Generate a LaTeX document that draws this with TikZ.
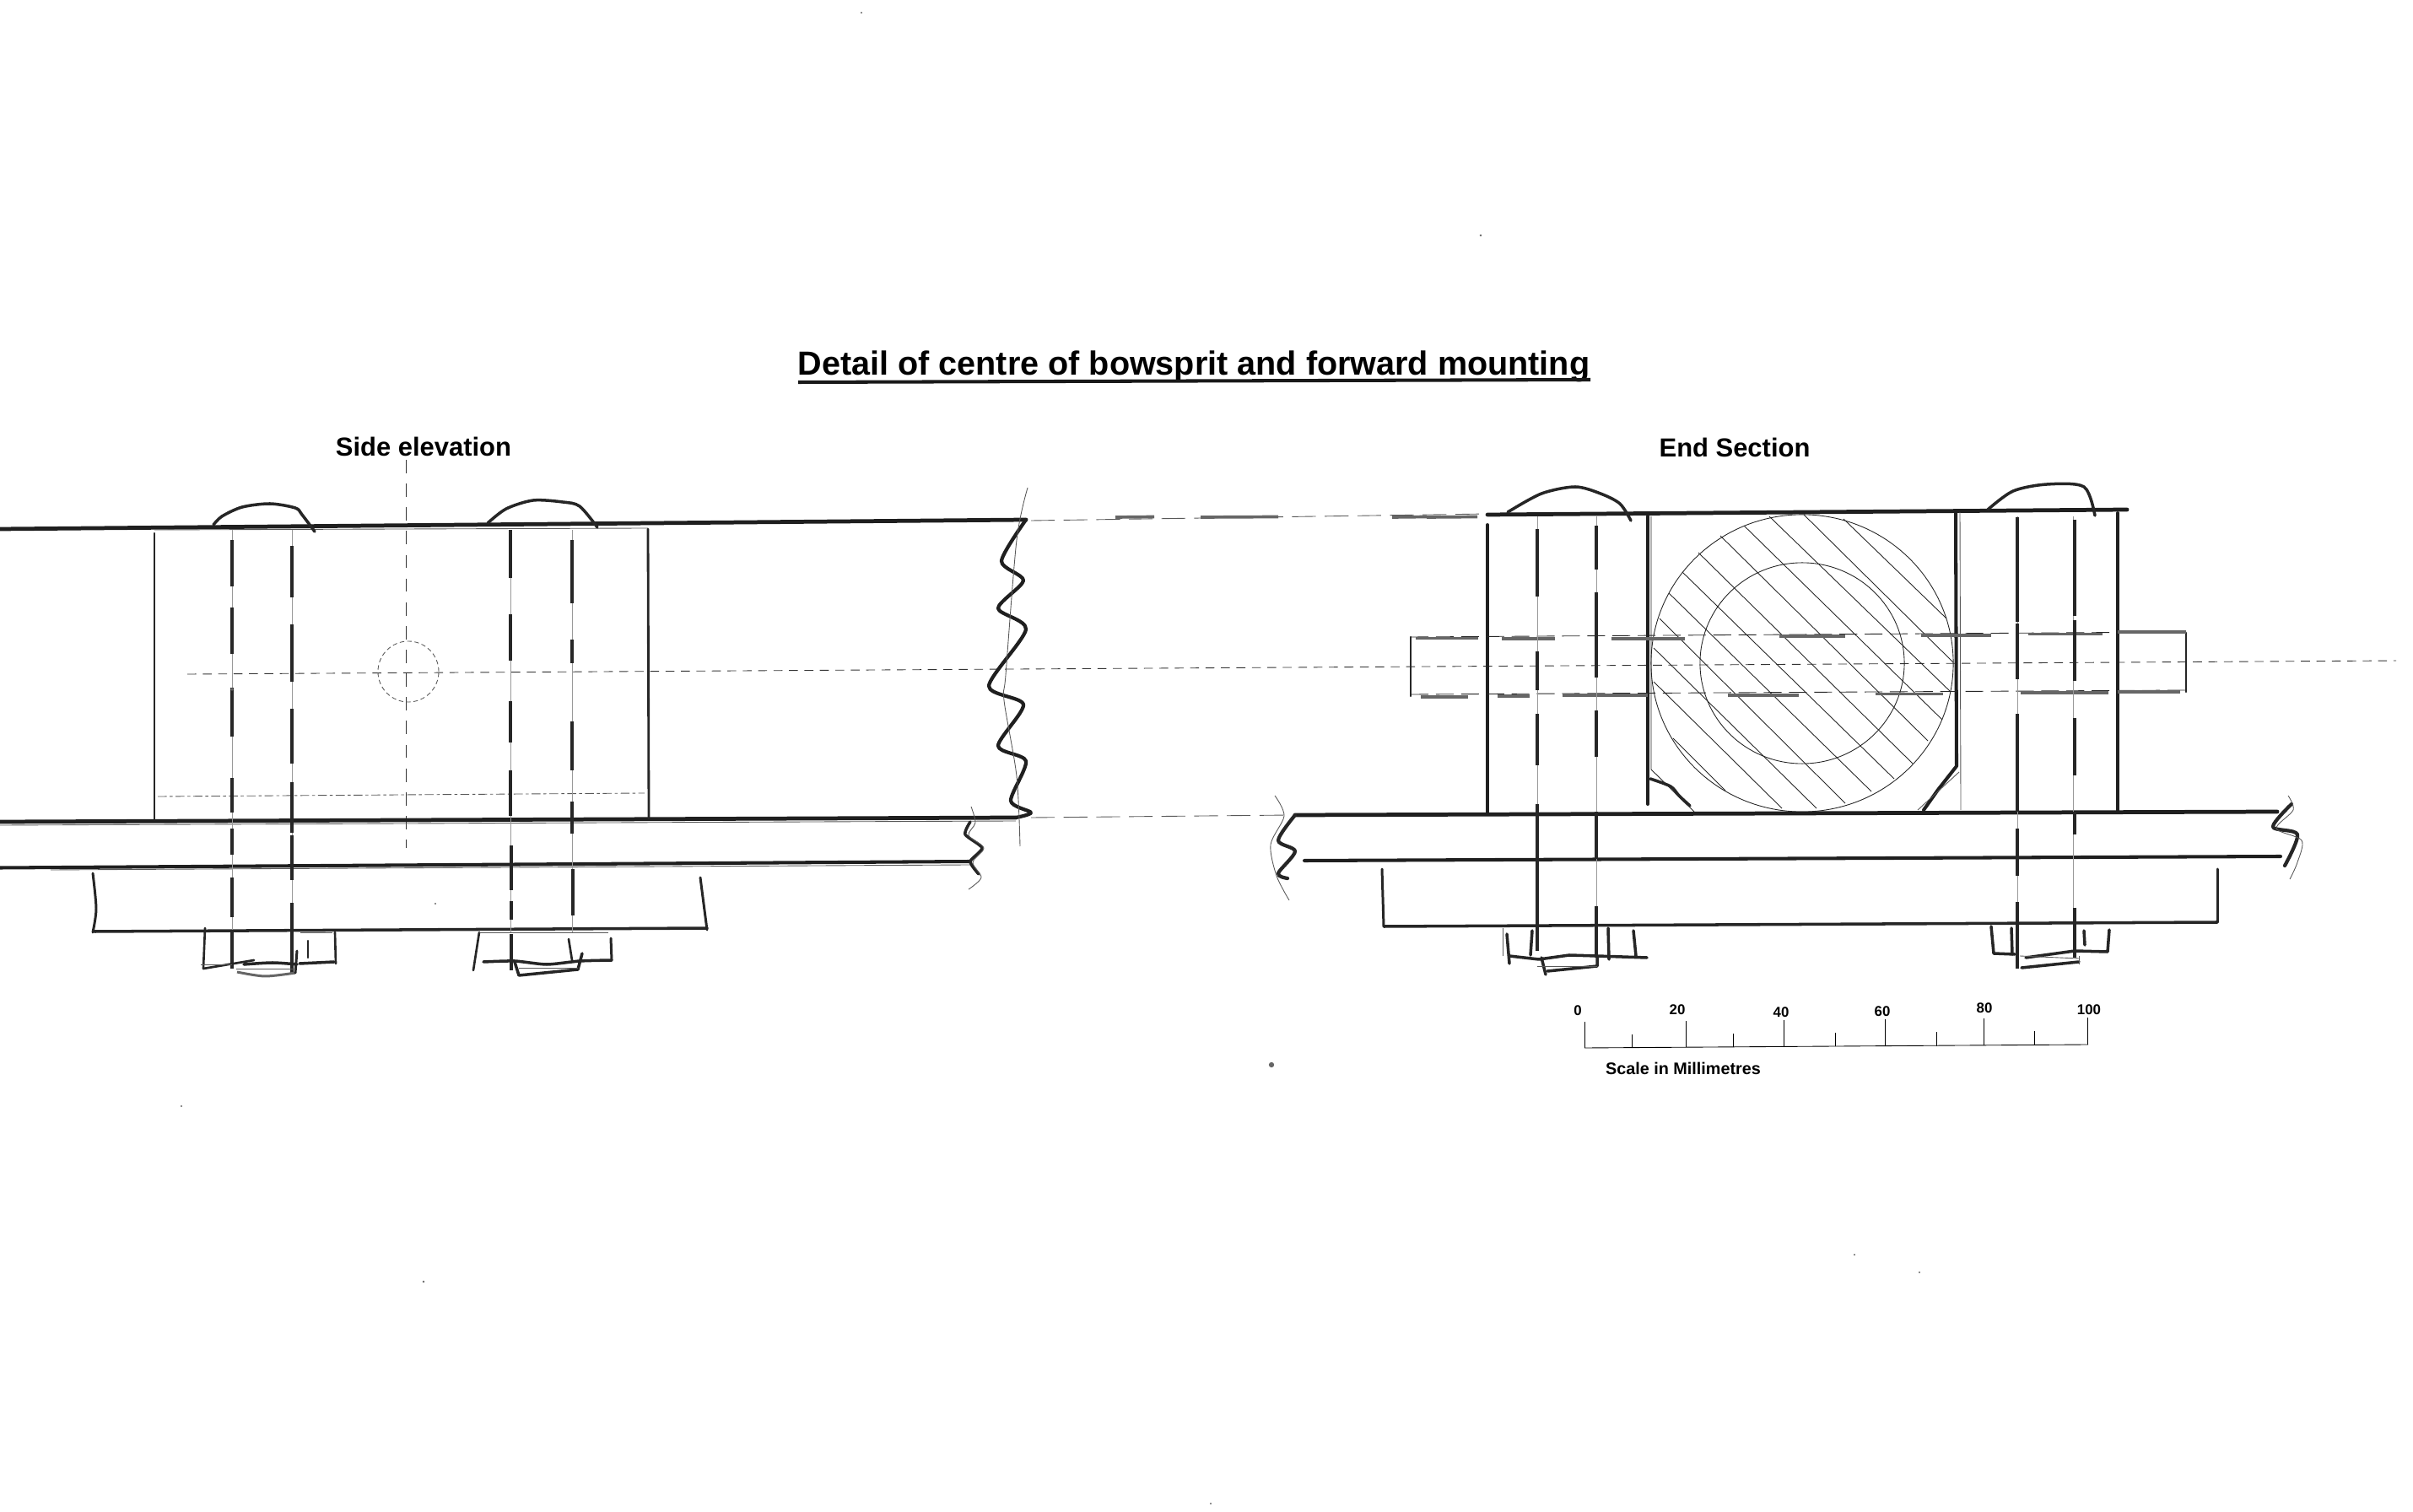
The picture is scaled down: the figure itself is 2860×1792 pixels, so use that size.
\documentclass[tikz,border=0pt]{standalone}
\usepackage{fontspec}
\setmainfont{Liberation Sans}
\tikzset{
    outline/.style={line width=1.35pt, line cap=round, line join=round, black!88},
    sketch/.style={line width=1pt, line cap=round, line join=round, black!85},
    hairline/.style={line width=.25pt, black!65},
    boltline/.style={line width=.25pt, black!40},
    boltdash/.style={line width=1.1pt, black!85},
    smudge/.style={line width=1.05pt, black!60},
    centreline/.style={line width=.25pt, black!80, dash pattern=on 3pt off 2.2pt},
    hatch/.style={line width=.25pt, black!85},
    heading/.style={inner sep=0pt, font=\bfseries\fontsize{8.8}{10}\selectfont},
    tick label/.style={inner sep=0pt, font=\bfseries\fontsize{4.8}{6}\selectfont},
}
\begin{document}
\begin{tikzpicture}[x=.01cm, y=-.01cm]
                \useasboundingbox (0,0) rectangle (2860,1792);

                %Titles
                \node[inner sep=0pt, font=\bfseries\fontsize{11.25}{13}\selectfont] (title) at (1415,434) {Detail of centre of bowsprit and forward mounting};
                \draw[line width=1.15pt, black!90] (946,453) -- (1885,450);
                \node[heading] (side) at (502,529) {Side elevation};
                \node[heading] (end) at (2056,530) {End Section};

                %Projection lines
                \draw[centreline] (222,799) -- (2840,783);
                \draw[hairline, black!80, dash pattern=on 4.5pt off 3.5pt] (481,545) -- (481,1005);
                \draw[hairline, dash pattern=on 8pt off 3pt] (1222,617) -- (1763,609);
                \draw[hairline, dash pattern=on 8pt off 3pt] (1222,969) -- (1530,966);
                \foreach \a/\b in {1322/1368, 1423/1515, 1650/1691, 1691/1751}
                \draw[smudge] (\a,613) -- (\b,612.5);

                %Side elevation: bowsprit and plates
                \draw[outline] (0,627) -- (1216,616);
                \draw[outline] (0,974) -- (1204,969);
                \draw[outline, line width=1.15pt] (0,1028.5) -- (1150,1021);
                \draw[hairline] (183,628) -- (768,626);
                \draw[hairline] (0,978) -- (1204,973);
                \draw[hairline] (60,1031) -- (1150,1025);
                \draw[sketch, line width=.6pt] (183,632) -- (183,972);
                \draw[sketch, line width=.8pt] (768,627) -- (769,970);
                \draw[hairline, dash pattern=on 3pt off 1pt on 1pt off 1pt] (187,944) -- (764,940);
                \draw[hairline, dash pattern=on 1.5pt off 1pt] (484,796) circle [radius=.36cm];

                %Side elevation: lower plate
                \draw[sketch, line width=.85pt] plot[smooth] coordinates {(110,1035) (114,1077) (110,1105)};
                \draw[sketch] (112,1104) -- (838,1100);
                \draw[sketch, line width=.85pt] (830,1040) -- (838,1102);

                %Side elevation: bolt heads
                \draw[sketch] plot[smooth] coordinates {(253,622) (263,612) (287,601) (320,597) (350,602) (358,610) (373,630)};
                \draw[sketch] plot[smooth] coordinates {(578,620) (600,603) (632,593) (667,595) (687,600) (708,625)};

                %Side elevation: bolts
                \foreach \x in {275,346,605,678}
                \draw[boltline] (\x,628) -- (\x,1105);
                \foreach \x/\a/\b in {275/640/695, 275/720/775, 275/815/873, 275/922/963, 275/982/1013, 275/1040/1087, 275/1102/1148,
                    346/647/708, 346/740/808, 346/840/905, 346/927/987, 346/990/1043, 346/1070/1153,
                    605/628/685, 605/728/783, 605/831/880, 605/913/967, 606/1002/1055, 606/1068/1090, 606/1107/1150,
                    678/640/715, 678/758/786, 678/855/913, 678/950/988, 679/1030/1085}
                \draw[boltdash] (\x,\a) -- (\x,\b);

                %Side elevation: nuts
                \draw[sketch, line width=.75pt] (243,1100) -- (241,1148) -- (301,1138);
                \draw[hairline] (238,1143) -- (275,1143);
                \draw[sketch] plot[smooth] coordinates {(289,1143) (323,1141) (352,1143)};
                \draw[sketch] (355,1142) -- (396,1140);
                \draw[sketch, line width=.75pt] (397,1105) -- (398,1142);
                \draw[sketch, line width=.6pt] (365,1115) -- (365,1135);
                \draw[smudge, line width=.85pt] plot[smooth] coordinates {(281,1152) (314,1157) (350,1153)};
                \draw[sketch, line width=.85pt] (350,1153) -- (352,1127);
                \draw[hairline] (280,1148) -- (350,1148);
                \draw[hairline] (356,1105) -- (394,1105);
                \draw[sketch, line width=.75pt] (568,1105) -- (561,1150);
                \draw[sketch] plot[smooth, tension=.4] coordinates {(573,1140) (610,1139) (648,1143) (687,1139) (725,1138)};
                \draw[sketch, line width=.85pt] (724,1112) -- (725,1138);
                \draw[sketch] (610,1140) -- (615,1156) -- (685,1149) -- (690,1130);
                \draw[sketch, line width=.75pt] (674,1113) -- (678,1138);
                \draw[hairline] (568,1105) -- (721,1105);
                \draw[hairline] (615,1147) -- (685,1147);

                %Side elevation: break lines
                \draw[outline, line width=1.2pt] plot[smooth, tension=.45] coordinates {(1216,616) (1187,665) (1213,688) (1183,721) (1216,746) (1172,813) (1213,835) (1183,884) (1216,902) (1198,949) (1222,963) (1204,969)};
                \draw[hairline] plot[smooth] coordinates {(1218,578) (1205,640) (1192,800) (1190,830) (1205,920) (1209,1003)};
                \draw[sketch] plot[smooth, tension=.4] coordinates {(1150,974) (1144,989) (1164,1005) (1150,1021) (1160,1036)};
                \draw[hairline] plot[smooth] coordinates {(1151,956) (1156,975) (1148,990) (1166,1005) (1153,1022) (1163,1040) (1148,1054)};

                %End section: bowsprit and plates
                \draw[outline] (1763,610) -- (2521,604);
                \draw[outline] (1535,966) -- (2699,962);
                \draw[outline, line width=1.15pt] (1546,1020) -- (2703,1015);
                \draw[outline, line width=1.1pt] (1763,622) -- (1763,965);
                \draw[outline, line width=1.1pt] (2510,608) -- (2510,962);
                \draw[outline, line width=1.15pt] (1953,612) -- (1953,953);
                \draw[hairline, black!85] (1957,612) -- (1957,912) -- (2008,962);
                \draw[outline, line width=1.15pt] (2318,607) -- (2319,908) -- (2297,936) -- (2280,960);
                \draw[hairline] (2323,607) -- (2324,960);
                \draw[hairline] (2322,915) -- (2273,960);
                \draw[sketch] plot[smooth] coordinates {(1956,923) (1980,932) (1990,943) (2003,955)};

                %End section: bowsprit circles and hatching
                \foreach \xa/\ya/\xb/\yb in {2185/615/2307/733, 2138/610/2315/785, 2097/612/2312/820, 2067/623/2302/853,
                    2039/635/2285/878, 2013/655/2267/905, 1994/678/2245/923, 1978/703/2218/938,
                    1967/733/2187/952, 1960/768/2153/958, 1960/808/2112/958, 1983/875/2045/937}
                \draw[hatch] (\xa,\ya) -- (\xb,\yb);
                \draw[hatch] (2136,786) circle [x radius=1.79cm, y radius=1.76cm];
                \draw[hatch] (2136,786) circle [x radius=1.21cm, y radius=1.19cm];

                %End section: bar through the bowsprit
                \draw[hairline, black!85, dash pattern=on 6pt off 2.5pt] (1672,755) -- (2591,749);
                \draw[hairline, black!85, dash pattern=on 6pt off 2.5pt] (1672,823) -- (2591,818);
                \draw[sketch, line width=.6pt] (1672,755) -- (1672,825);
                \draw[sketch, line width=.8pt] (2591,750) -- (2591,820);
                \foreach \a/\b/\y in {1678/1752/756.5, 1780/1843/757, 1910/1997/757, 2109/2187/754, 2277/2360/753, 2404/2492/751.5, 2510/2591/749}
                \draw[smudge] (\a,\y) -- (\b,\y);
                \foreach \a/\b/\y in {1684/1740/826, 1775/1813/825, 1852/1953/824, 2048/2132/824, 2223/2303/822.5, 2395/2499/821, 2510/2584/820}
                \draw[smudge] (\a,\y) -- (\b,\y);

                %End section: lower plate
                \draw[sketch, line width=.85pt] (1638,1030) -- (1640,1098);
                \draw[sketch] (1640,1098) -- (2628,1093);
                \draw[sketch, line width=.85pt] (2628,1093) -- (2628,1030);

                %End section: bolt heads
                \draw[sketch] plot[smooth] coordinates {(1787,607) (1827,585) (1867,577) (1897,585) (1920,597) (1933,617)};
                \draw[sketch] plot[smooth] coordinates {(2356,604) (2386,582) (2426,574) (2470,577) (2483,611)};

                %End section: bolts
                \foreach \x in {1822,1892,2391,2457}
                \draw[boltline] (\x,612) -- (\x,1100);
                \foreach \x/\a/\b in {1822/627/707, 1822/772/818, 1822/846/907, 1822/953/1127,
                    1892/623/675, 1892/702/803, 1892/842/897, 1892/962/1018, 1892/1074/1135,
                    2391/613/737, 2391/739/805, 2391/846/962, 2391/982/1038, 2391/1069/1148,
                    2459/616/730, 2459/735/807, 2459/851/919, 2459/962/989, 2459/1076/1135}
                \draw[boltdash] (\x,\a) -- (\x,\b);

                %End section: nuts
                \draw[hairline] (1781,1100) -- (1781,1133);
                \draw[sketch] (1786,1107) -- (1789,1142);
                \draw[sketch] (1789,1133) -- (1824,1137) -- (1860,1132) -- (1893,1133) -- (1952,1135);
                \draw[sketch] (1816,1103) -- (1814,1132);
                \draw[sketch] (1906,1100) -- (1907,1137);
                \draw[sketch] (1936,1103) -- (1939,1133);
                \draw[sketch] (1827,1135) -- (1832,1155);
                \draw[sketch] (1834,1151) -- (1893,1145) -- (1893,1133);
                \draw[hairline] (1822,1145) -- (1893,1145);
                \draw[sketch] (2360,1098) -- (2363,1130) -- (2388,1131);
                \draw[sketch] (2384,1100) -- (2385,1131);
                \draw[sketch] (2396,1147) -- (2464,1140);
                \draw[sketch] (2401,1135) -- (2459,1127) -- (2498,1128) -- (2500,1102);
                \draw[sketch] (2470,1103) -- (2471,1120);
                \draw[hairline] (2464,1133) -- (2464,1143);
                \draw[hairline] (2394,1133) -- (2464,1136);

                %End section: break lines
                \draw[sketch, line width=1.2pt] plot[smooth, tension=.5] coordinates {(1535,966) (1515,996) (1535,1009) (1515,1035) (1526,1041)};
                \draw[hairline] plot[smooth] coordinates {(1511,943) (1522,967) (1506,1001) (1513,1038) (1528,1067)};
                \draw[sketch, line width=1.2pt] plot[smooth, tension=.5] coordinates {(2716,953) (2694,980) (2723,989) (2708,1026)};
                \draw[hairline] plot[smooth] coordinates {(2712,943) (2718,960) (2698,982) (2728,996) (2723,1022) (2714,1042)};

                %Scale
                \draw[hairline, black] (1878,1242) -- (2475,1238);
                \foreach \x/\y/\top in {1878/1242/1211, 1934/1242/1226, 1998/1241/1210, 2054/1241/1225, 2114/1241/1209,
                    2175/1240/1224, 2234/1240/1208, 2295/1240/1223, 2351/1239/1207, 2411/1239/1222, 2474/1238/1206}
                \draw[hairline, black] (\x,\y) -- (\x,\top);
                \foreach \x/\y/\descr in {1870/1198/0, 1988/1197/20, 2111/1200/40, 2231/1199/60, 2352/1195/80, 2476/1197/100}
                \node[tick label] (scale\descr) at (\x,\y) {\descr};
                \node[inner sep=0pt, font=\bfseries\fontsize{5.63}{7}\selectfont] (scalename) at (1995,1266) {Scale in Millimetres};

                %Specks on the paper
                \foreach \x/\y/\r in {1021/15/.3, 1755/279/.4, 1507/1262/.9, 215/1311/.3, 502/1519/.4, 2198/1487/.3, 1435/1782/.3, 2275/1508/.3, 516/1071/.3, 275/817/.5}
                \fill[black!60] (\x,\y) circle [radius=\r pt];

\end{tikzpicture}
\end{document}
